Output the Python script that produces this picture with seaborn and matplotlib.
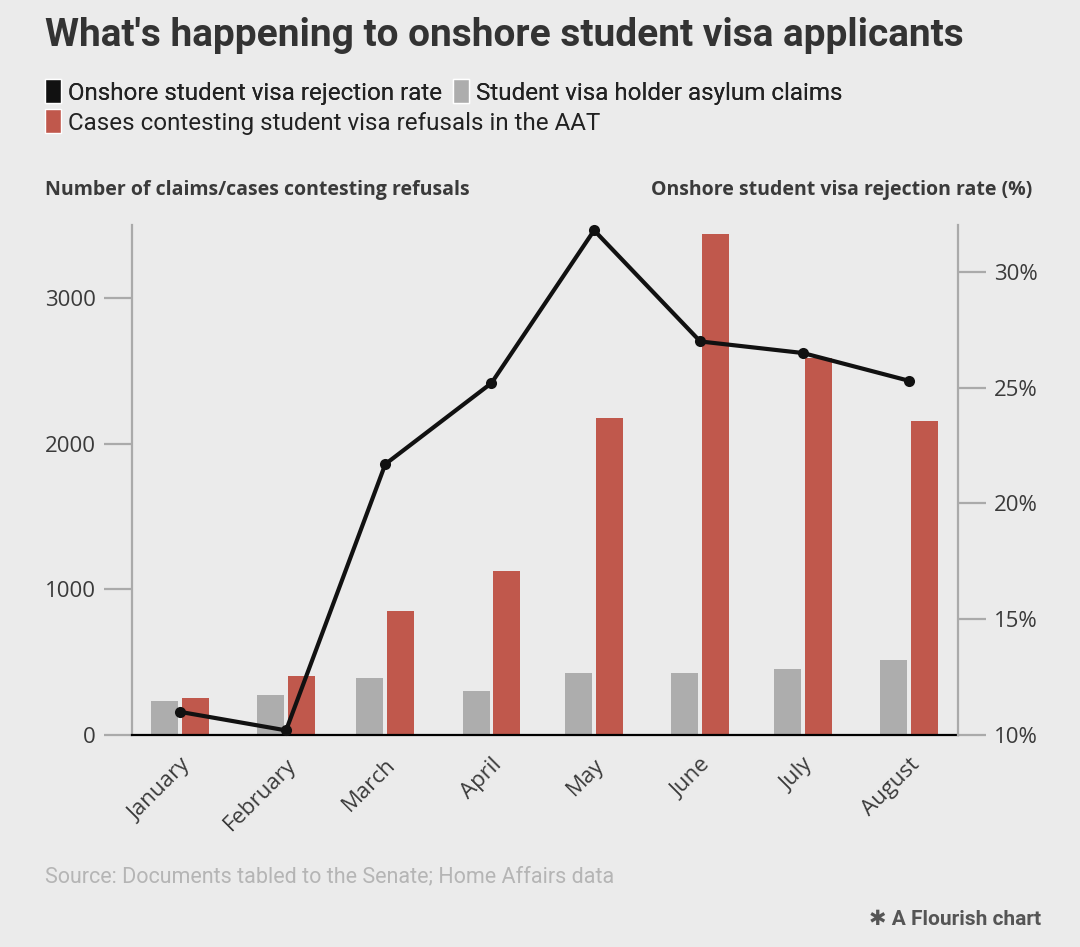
import pandas as pd
import matplotlib.pyplot as plt
import seaborn as sns
from matplotlib.patches import Patch

# Data
months = ["January", "February", "March", "April", "May", "June", "July", "August"]
asylum_claims = [236, 275, 393, 302, 424, 428, 451, 515]
aat_cases = [256, 403, 851, 1128, 2176, 3439, 2590, 2153]
rejection_rate = [11.0, 10.2, 21.7, 25.2, 31.8, 27.0, 26.5, 25.3]

left_ticks = [0, 1000, 2000, 3000]
right_ticks = [10, 15, 20, 25, 30]

BG = "#ebebeb"
GREY = "#adadad"
RED = "#c0584c"
BLACK = "#111111"
TEXT = "#3a3a3a"

# the x axis is a time axis, so months sit at their real day offsets
dates = pd.to_datetime([m + " 2024" for m in months], format="%B %Y")
days = (dates - dates[0]).days.to_numpy()

bars = pd.DataFrame({
    "day": list(days) * 2,
    "value": asylum_claims + aat_cases,
    "series": ["asylum"] * len(months) + ["aat"] * len(months),
})

sns.set_style("white", {"axes.facecolor": BG, "figure.facecolor": BG})
plt.rcParams['font.family'] = ['Open Sans', 'DejaVu Sans']

fig = plt.figure(figsize=(10.8, 9.47), dpi=100)
ax = fig.add_axes([132 / 1080, 1 - 735 / 947, (958 - 132) / 1080, (735 - 225) / 947])
ax.set_facecolor(BG)

sns.barplot(data=bars, x="day", y="value", hue="series", native_scale=True,
            palette=[GREY, RED], width=0.62, gap=0.12, errorbar=None,
            saturation=1, legend=False, linewidth=0, ax=ax)

ax.set_xlim(-14, 227.3)
ax.set_ylim(0, 3500)
ax.set_xlabel("")
ax.set_ylabel("")
ax.set_xticks(days)
ax.set_xticklabels(months, rotation=45, ha="right", rotation_mode="anchor")
ax.set_yticks(left_ticks)
ax.set_yticklabels([str(v) for v in left_ticks])
ax.tick_params(axis="x", length=8, width=1.6, color="black", pad=6,
               labelsize=16, labelcolor=TEXT)
ax.tick_params(axis="y", length=20, width=1.6, color="#aaaaaa", pad=6,
               labelsize=16, labelcolor=TEXT)
for s in ["top", "right"]:
    ax.spines[s].set_visible(False)
ax.spines["left"].set_color("#aaaaaa")
ax.spines["left"].set_linewidth(1.6)
ax.spines["bottom"].set_color("black")
ax.spines["bottom"].set_linewidth(1.6)

# rejection rate on the right axis
ax2 = ax.twinx()
sns.lineplot(x=days, y=rejection_rate, ax=ax2, color=BLACK, linewidth=3,
             marker="o", markersize=8, markeredgewidth=0, clip_on=False)
ax2.set_ylim(10, 32.03)
ax2.set_yticks(right_ticks)
ax2.set_yticklabels([f"{v}%" for v in right_ticks])
ax2.tick_params(axis="y", length=20, width=1.6, color="#aaaaaa", pad=6,
                labelsize=16, labelcolor=TEXT)
for s in ["top", "left", "bottom"]:
    ax2.spines[s].set_visible(False)
ax2.spines["right"].set_color("#aaaaaa")
ax2.spines["right"].set_linewidth(1.6)

# title, legend, axis titles, source
fig.text(45 / 1080, 1 - 35 / 947, "What's happening to onshore student visa applicants",
         fontsize=28, fontweight="bold", color="#333333", va="center",
         family=["Roboto", "DejaVu Sans"])

leg_font = {"family": ["Roboto", "DejaVu Sans"], "size": 17.4}
row1 = fig.legend([Patch(facecolor=BLACK), Patch(facecolor=GREY)],
                  ["Onshore student visa rejection rate", "Student visa holder asylum claims"],
                  loc="center left", bbox_to_anchor=(45 / 1080, 1 - 92 / 947), ncol=2,
                  frameon=False, handlelength=0.65, handleheight=1.15, handletextpad=0.3,
                  columnspacing=0.45, borderaxespad=0, borderpad=0, prop=leg_font,
                  labelcolor="#222222")
fig.legend([Patch(facecolor=RED)],
           ["Cases contesting student visa refusals in the AAT"],
           loc="center left", bbox_to_anchor=(45 / 1080, 1 - 122 / 947),
           frameon=False, handlelength=0.65, handleheight=1.15, handletextpad=0.3,
           borderaxespad=0, borderpad=0, prop=leg_font, labelcolor="#222222")
fig.add_artist(row1)

fig.text(45 / 1080, 1 - 190 / 947, "Number of claims/cases contesting refusals",
         fontsize=14, fontweight="bold", color=TEXT, va="center")
fig.text(1032 / 1080, 1 - 190 / 947, "Onshore student visa rejection rate (%)",
         fontsize=14, fontweight="bold", color=TEXT, va="center", ha="right")

fig.text(45 / 1080, 1 - 877 / 947, "Source: Documents tabled to the Senate; Home Affairs data",
         fontsize=15.5, color="#b5b5b5", va="center", family=["Roboto", "DejaVu Sans"])
fig.text(1041 / 1080, 1 - 919 / 947, "\u2731 A Flourish chart",
         fontsize=15, fontweight="bold", color="#555555", va="center", ha="right",
         family=["Roboto", "DejaVu Sans"])

fig.savefig("out.png", dpi=100, facecolor=BG)
